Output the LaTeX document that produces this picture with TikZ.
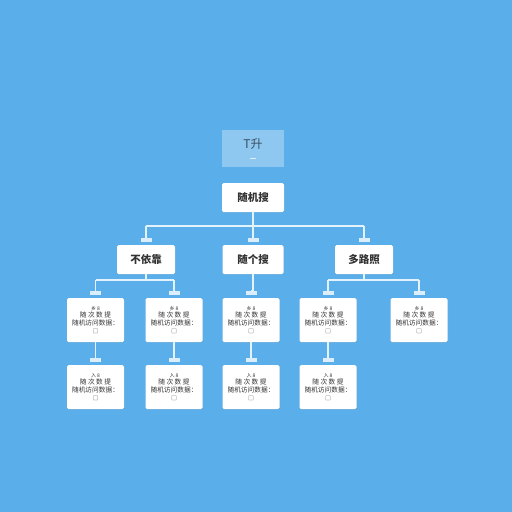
\documentclass[tikz,border=0pt]{standalone}
\usepackage{fontspec}
\newfontfamily\cjk{Noto Sans CJK SC}
\usetikzlibrary{shadows}
\definecolor{bg}{HTML}{5AAEE9}
\definecolor{topfill}{HTML}{8EC7F0}
\definecolor{linec}{HTML}{E4F2FC}
\definecolor{tabc}{HTML}{DCEEFB}
\definecolor{txt}{HTML}{333333}
\tikzset{
  box/.style={draw=none, fill=white, rounded corners=1.5pt, inner sep=0pt, text=txt,
    drop shadow={opacity=0.12, shadow xshift=0.6pt, shadow yshift=-0.8pt}},
  lone/.style={box, minimum height=29pt, font=\cjk\bfseries\fontsize{10.5}{12}\selectfont},
  ltwo/.style={box, minimum width=57pt, minimum height=44pt, align=center,
    font=\cjk\fontsize{6.7}{7.8}\selectfont},
  tabbox/.style={draw=none, fill=tabc, minimum width=11pt, minimum height=4.5pt, inner sep=0pt},
  conn/.style={draw=linec, line width=1.2pt},
}
\newcommand{\leafbody}[1]{{\fontsize{5}{5.5}\selectfont #1}\\[-0.5pt]随 次 数 提\\随机访问数据：\\[1pt]{\fontsize{5.5}{6}\selectfont □}}
\begin{document}
\begin{tikzpicture}[x=1pt,y=-1pt]
\fill[bg] (0,0) rectangle (512,512);
\useasboundingbox (0,0) rectangle (512,512);

% top title box
\node[fill=topfill, minimum width=62pt, minimum height=37pt, inner sep=0pt] (top) at (253,148.5) {};
\node[text=black!60!topfill, font=\cjk\fontsize{12}{13}\selectfont] (toptxt) at (253,144) {T升};
\draw[draw=white!70!topfill, line width=0.8pt] (250,158) -- (256,158);

% root
\node[lone, minimum width=62pt] (root) at (253,197.5) {随机搜};

% level 1
\node[lone, minimum width=58pt] (A) at (146,259.5) {不依靠};
\node[lone, minimum width=61pt] (B) at (253,259.5) {随个搜};
\node[lone, minimum width=58pt] (C) at (364,259.5) {多路照};

\node[tabbox] (tA) at (146,240) {};
\node[tabbox] (tB) at (253,240) {};
\node[tabbox] (tC) at (364,240) {};

\coordinate (rb) at (253,226);
\coordinate (bl) at (146,226);
\coordinate (br) at (364,226);
\draw[conn] (root.south) -- (rb);
\draw[conn] (bl) -- (br);
\draw[conn] (bl) -- (tA.north);
\draw[conn] (rb) -- (tB.north);
\draw[conn] (br) -- (tC.north);

% level 2
\node[ltwo] (p1) at (95.5,320) {\leafbody{乡 8}};
\node[ltwo] (p2) at (174,320) {\leafbody{乡 8}};
\node[ltwo] (p3) at (251,320) {\leafbody{乡 8}};
\node[ltwo] (p4) at (328,320) {\leafbody{乡 8}};
\node[ltwo] (p5) at (419,320) {\leafbody{乡 8}};

\node[tabbox] (t1) at (95.5,293) {};
\node[tabbox] (t2) at (174,293) {};
\node[tabbox] (t3) at (251,293) {};
\node[tabbox] (t4) at (328,293) {};
\node[tabbox] (t5) at (419,293) {};

\coordinate (aj) at (146,280);
\coordinate (al) at (95.5,280);
\coordinate (ar) at (174,280);
\draw[conn] (A.south) -- (aj);
\draw[conn] (al) -- (ar);
\draw[conn] (al) -- (t1.north);
\draw[conn] (ar) -- (t2.north);

\draw[conn] (B.south) -- (B.south |- t3.north) -- (t3.north);

\coordinate (cj) at (364,280);
\coordinate (cl) at (328,280);
\coordinate (cr) at (419,280);
\draw[conn] (C.south) -- (cj);
\draw[conn] (cl) -- (cr);
\draw[conn] (cl) -- (t4.north);
\draw[conn] (cr) -- (t5.north);

% level 3
\node[ltwo] (q1) at (95.5,387) {\leafbody{入 8}};
\node[ltwo] (q2) at (174,387) {\leafbody{入 8}};
\node[ltwo] (q3) at (251,387) {\leafbody{入 8}};
\node[ltwo] (q4) at (328,387) {\leafbody{入 8}};

\node[tabbox] (s1) at (95.5,360) {};
\node[tabbox] (s2) at (174,360) {};
\node[tabbox] (s3) at (251,360) {};
\node[tabbox] (s4) at (328,360) {};

\draw[conn] (p1.south) -- (s1.north);
\draw[conn] (p2.south) -- (s2.north);
\draw[conn] (p3.south) -- (s3.north);
\draw[conn] (p4.south) -- (s4.north);
\end{tikzpicture}
\end{document}
